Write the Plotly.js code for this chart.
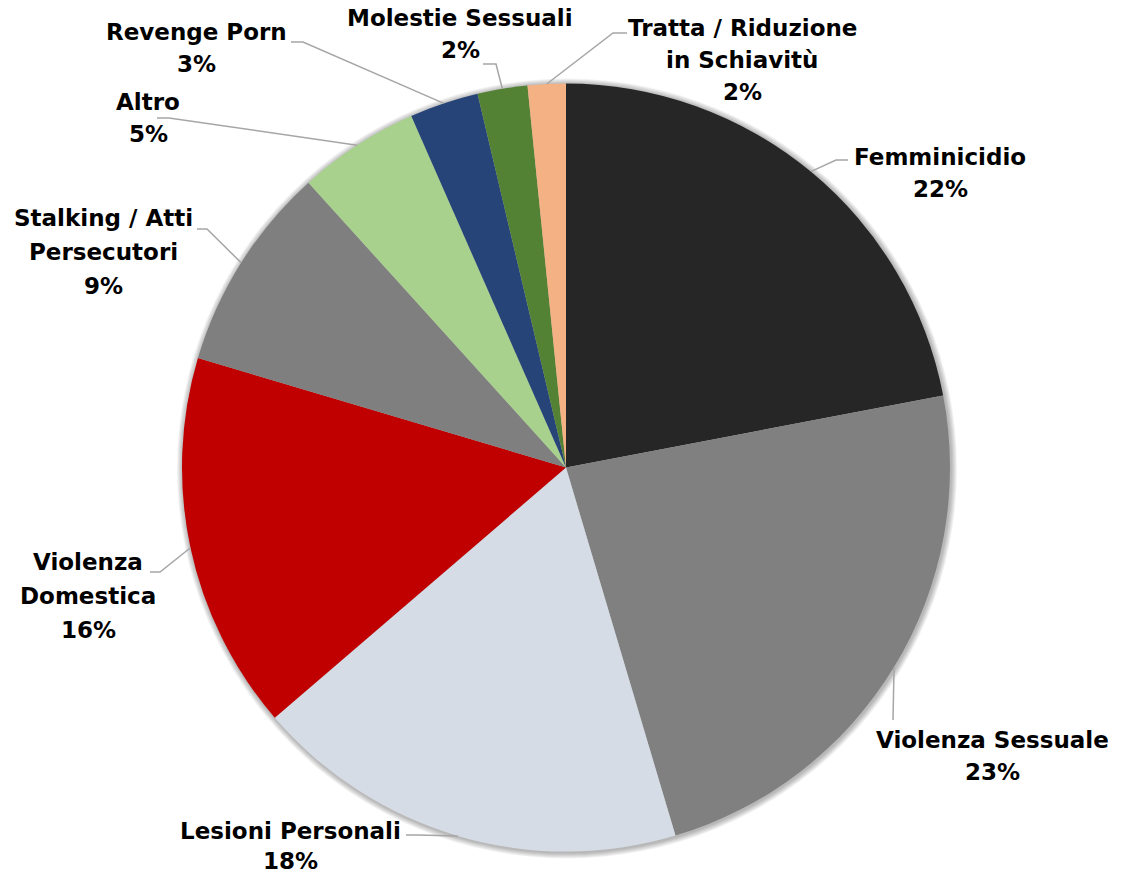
<!DOCTYPE html>
<html>
<head>
<meta charset="utf-8">
<script src="https://cdn.plot.ly/plotly-3.0.1.min.js"></script>
<style>html,body{margin:0;padding:0;background:#fff;}#chart{width:1132px;height:876px;}</style>
</head>
<body>
<div id="chart"></div>
<script>
// ---- data ----
const categories = ['Femminicidio', 'Violenza Sessuale', 'Lesioni Personali', 'Violenza Domestica',
  'Stalking / Atti Persecutori', 'Altro', 'Revenge Porn', 'Molestie Sessuali', 'Tratta / Riduzione in Schiavitù'];
const values = [22.0, 23.4, 18.3, 15.9, 8.7, 5.1, 2.9, 2.1, 1.6];
const labelLines = [['Femminicidio'], ['Violenza Sessuale'], ['Lesioni Personali'], ['Violenza', 'Domestica'],
  ['Stalking / Atti', 'Persecutori'], ['Altro'], ['Revenge Porn'], ['Molestie Sessuali'], ['Tratta / Riduzione', 'in Schiavitù']];
const colors = ['#262626', '#808080', '#D6DCE5', '#C00000', '#7F7F7F', '#A9D18E', '#264478', '#548235', '#F4B183'];

// ---- layout (pixels) ----
const W = 1132, H = 876;
const CX = 566, CY = 467.5, R = 384;
// label text: centre x, y of first line, line step
const labelPos = [
  {x: 940, y: 157, step: 32, start: [848, 160], elbow: [836, 160]},
  {x: 992, y: 740, step: 32, start: [893, 720], elbow: [893, 720]},
  {x: 290, y: 831, step: 30, start: [406, 835], elbow: [418, 835]},
  {x: 88, y: 562, step: 34, start: [150, 572], elbow: [160, 572]},
  {x: 103, y: 218, step: 34, start: [197, 229], elbow: [207, 229]},
  {x: 148, y: 102, step: 32, start: [157, 118], elbow: [169, 118]},
  {x: 196, y: 32, step: 32, start: [291, 42], elbow: [303, 42]},
  {x: 460, y: 18, step: 32, start: [483, 64], elbow: [496, 64]},
  {x: 742, y: 28, step: 32, start: [627, 33], elbow: [613, 33]}
];
const FONT = {family: 'DejaVu Sans, Century Gothic, sans-serif', size: 23, color: '#000000'};

const px = v => v / W;
const py = v => 1 - v / H;

const total = values.reduce((a, b) => a + b, 0);
const annotations = [];
const shapes = [];

// soft shadow rings under the pie
for (let k = 6; k >= 1; k--) {
  shapes.push({type: 'circle', xref: 'paper', yref: 'paper', layer: 'below',
    x0: px(CX - R - k + 1), x1: px(CX + R + k + 1), y0: py(CY + R + k + 1), y1: py(CY - R - k + 1),
    fillcolor: 'rgba(0,0,0,0.05)', line: {width: 0}});
}

let cum = 0;
values.forEach((v, i) => {
  const mid = (cum + v / 2) / total * 2 * Math.PI;
  cum += v;
  const ex = CX + R * Math.sin(mid), ey = CY - R * Math.cos(mid);
  const lp = labelPos[i];
  const lines = labelLines[i].concat([Math.round(v / total * 100) + '%']);
  lines.forEach((t, j) => {
    annotations.push({xref: 'paper', yref: 'paper', x: px(lp.x), y: py(lp.y + j * lp.step),
      xanchor: 'center', yanchor: 'middle', showarrow: false, text: '<b>' + t + '</b>', font: FONT});
  });
  shapes.push({type: 'path', xref: 'paper', yref: 'paper', layer: 'above',
    path: `M ${px(lp.start[0])},${py(lp.start[1])} L ${px(lp.elbow[0])},${py(lp.elbow[1])} L ${px(ex)},${py(ey)}`,
    line: {color: '#A6A6A6', width: 1.5}});
});

const data = [{
  type: 'pie',
  labels: categories,
  values: values,
  sort: false,
  direction: 'clockwise',
  rotation: 0,
  marker: {colors: colors, line: {width: 0}},
  textinfo: 'none',
  hoverinfo: 'label+percent',
  domain: {x: [px(CX - R), px(CX + R)], y: [py(CY + R), py(CY - R)]}
}];

const layout = {
  width: W, height: H,
  margin: {l: 0, r: 0, t: 0, b: 0},
  paper_bgcolor: '#ffffff',
  showlegend: false,
  annotations: annotations,
  shapes: shapes
};

Plotly.newPlot('chart', data, layout, {displayModeBar: false, staticPlot: true});
</script>
</body>
</html>
